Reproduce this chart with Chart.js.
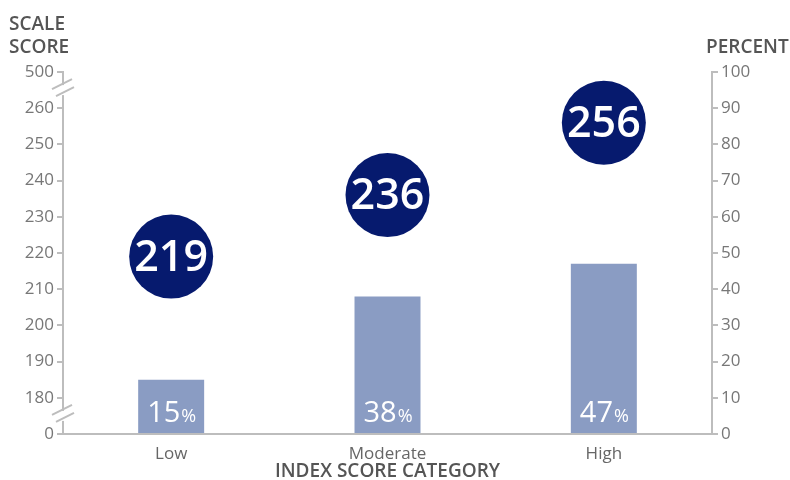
<!DOCTYPE html>
<html lang="en">
<head>
  <meta charset="UTF-8" />
  <title>Scale Score by Index Score Category</title>
  <script src="https://cdn.jsdelivr.net/npm/chart.js"></script>
  <style>
    html, body {
      margin: 0;
      padding: 0;
      background: #fff;
      overflow: hidden;
    }
  </style>
</head>
<body>
  <canvas id="chart" width="790" height="480"></canvas>

  <script>
    const categories = ['Low', 'Moderate', 'High'];
    const percents = [15, 38, 47];
    const scaleScores = [219, 236, 256];
    // left axis: 170 stands for 0 and 270 stands for 500 (broken axis)
    const leftTickLabels = { 170: '0', 270: '500' };

    const FONT = "'Open Sans', sans-serif";
    const axisGray = '#bdbdbd';

    const extras = {
      id: 'extras',
      afterDraw(chart) {
        const ctx = chart.ctx;
        const yL = chart.scales.y;
        const area = chart.chartArea;

        // axis titles
        ctx.save();
        ctx.fillStyle = '#555';
        ctx.font = `600 19px ${FONT}`;
        ctx.textBaseline = 'alphabetic';
        ctx.textAlign = 'left';
        ctx.fillText('SCALE', 9, 30);
        ctx.fillText('SCORE', 9, 53);
        ctx.fillText('PERCENT', 706, 53);
        ctx.restore();

        // axis breaks on left axis
        const x0 = area.left;
        [265, 175].forEach(v => {
          const yc = yL.getPixelForValue(v);
          ctx.save();
          ctx.fillStyle = '#fff';
          ctx.fillRect(x0 - 2, yc - 5, 4, 10);
          ctx.strokeStyle = axisGray;
          ctx.lineWidth = 2;
          ctx.beginPath();
          ctx.moveTo(x0 - 11, yc - 1);
          ctx.lineTo(x0 + 9, yc - 11);
          ctx.moveTo(x0 - 7, yc + 6);
          ctx.lineTo(x0 + 11, yc - 3);
          ctx.stroke();
          ctx.restore();
        });

        // bubble labels
        const pts = chart.getDatasetMeta(1).data;
        ctx.save();
        ctx.fillStyle = '#fff';
        ctx.font = `600 43px ${FONT}`;
        ctx.textAlign = 'center';
        ctx.textBaseline = 'middle';
        pts.forEach((p, i) => {
          ctx.fillText(String(scaleScores[i]), p.x, p.y + 2);
        });
        ctx.restore();

        // bar labels
        const bars = chart.getDatasetMeta(0).data;
        ctx.save();
        ctx.fillStyle = '#fff';
        ctx.textBaseline = 'alphabetic';
        ctx.textAlign = 'left';
        bars.forEach((b, i) => {
          const num = String(percents[i]);
          ctx.font = `400 29px ${FONT}`;
          const w1 = ctx.measureText(num).width;
          ctx.font = `400 18px ${FONT}`;
          const w2 = ctx.measureText('%').width;
          const start = b.x - (w1 + w2) / 2;
          ctx.font = `400 29px ${FONT}`;
          ctx.fillText(num, start, area.bottom - 12);
          ctx.font = `400 18px ${FONT}`;
          ctx.fillText('%', start + w1 + 1, area.bottom - 12);
        });
        ctx.restore();
      }
    };

    new Chart(document.getElementById('chart'), {
      data: {
        labels: categories,
        datasets: [
          {
            type: 'bar',
            data: percents,
            yAxisID: 'y1',
            backgroundColor: '#8a9cc3',
            categoryPercentage: 1,
            barPercentage: 0.305,
            order: 2
          },
          {
            type: 'line',
            data: scaleScores,
            yAxisID: 'y',
            showLine: false,
            pointRadius: 42,
            pointHoverRadius: 42,
            pointBackgroundColor: '#061a6e',
            pointBorderWidth: 0,
            order: 1
          }
        ]
      },
      options: {
        responsive: false,
        animation: false,
        devicePixelRatio: 1,
        layout: { padding: { top: 72, left: 0, right: 0, bottom: 0 } },
        plugins: {
          legend: { display: false },
          tooltip: { enabled: false }
        },
        scales: {
          x: {
            grid: { display: false },
            border: { display: true, color: axisGray, width: 2 },
            ticks: { color: '#666', font: { family: FONT, size: 17 }, padding: 2 },
            title: {
              display: true,
              text: 'INDEX SCORE CATEGORY',
              color: '#555',
              font: { family: FONT, size: 19, weight: '600', lineHeight: 0.9 },
              padding: { top: 0, bottom: 0 }
            },
            afterFit(s) { s.height = 46; }
          },
          y: {
            position: 'left',
            min: 170,
            max: 270,
            ticks: {
              stepSize: 10,
              color: '#777',
              font: { family: FONT, size: 17 },
              padding: 3,
              callback: v => leftTickLabels[v] !== undefined ? leftTickLabels[v] : v
            },
            grid: { drawOnChartArea: false, color: axisGray, lineWidth: 2, tickLength: 6 },
            border: { color: axisGray, width: 2 },
            afterFit(s) { s.width = 63; }
          },
          y1: {
            position: 'right',
            min: 0,
            max: 100,
            ticks: {
              stepSize: 10,
              color: '#777',
              font: { family: FONT, size: 17 },
              padding: 3
            },
            grid: { drawOnChartArea: false, color: axisGray, lineWidth: 2, tickLength: 6 },
            border: { color: axisGray, width: 2 },
            afterFit(s) { s.width = 78; }
          }
        }
      },
      plugins: [extras]
    });
  </script>
</body>
</html>
